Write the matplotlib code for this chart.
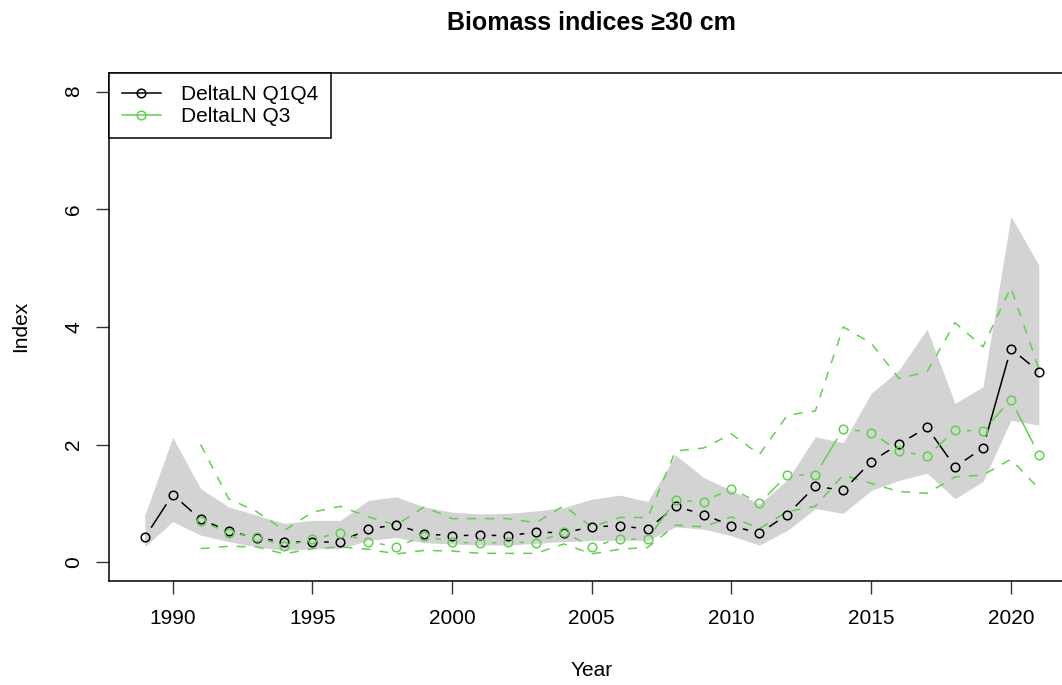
import numpy as np
import matplotlib
matplotlib.use('Agg')
import matplotlib.pyplot as plt
from matplotlib.lines import Line2D

plt.rcParams['font.family'] = ['Liberation Sans', 'DejaVu Sans']
plt.rcParams['lines.scale_dashes'] = False

# Q1Q4 index and its confidence band
years_q1q4 = list(range(1989, 2022))
q1q4 = [0.42, 1.15, 0.73, 0.53, 0.41, 0.35, 0.35, 0.35, 0.56, 0.64, 0.48,
        0.45, 0.46, 0.45, 0.51, 0.50, 0.60, 0.62, 0.56, 0.95, 0.81, 0.62,
        0.49, 0.81, 1.29, 1.22, 1.71, 2.01, 2.29, 1.62, 1.94, 3.63, 3.24]
q1q4_lo = [0.26, 0.69, 0.46, 0.35, 0.26, 0.20, 0.23, 0.23, 0.37, 0.42, 0.33,
           0.31, 0.29, 0.29, 0.32, 0.35, 0.37, 0.37, 0.37, 0.60, 0.56, 0.45,
           0.29, 0.54, 0.91, 0.83, 1.22, 1.39, 1.51, 1.08, 1.37, 2.41, 2.33]
q1q4_hi = [0.80, 2.12, 1.25, 0.94, 0.80, 0.66, 0.71, 0.71, 1.05, 1.11, 0.94,
           0.85, 0.82, 0.83, 0.87, 0.93, 1.07, 1.14, 1.03, 1.82, 1.44, 1.22,
           0.99, 1.40, 2.13, 2.03, 2.87, 3.27, 3.96, 2.70, 2.98, 5.88, 5.05]

# Q3 index and its confidence limits
years_q3 = list(range(1991, 2022))
q3 = [0.70, 0.50, 0.43, 0.27, 0.39, 0.50, 0.35, 0.26, 0.45,
      0.34, 0.32, 0.34, 0.33, 0.51, 0.26, 0.40, 0.40, 1.05, 1.03, 1.25,
      1.00, 1.48, 1.48, 2.27, 2.20, 1.89, 1.80, 2.24, 2.23, 2.76, 1.83]
q3_lo = [0.23, 0.27, 0.26, 0.14, 0.23, 0.26, 0.22, 0.14, 0.20,
         0.19, 0.15, 0.15, 0.15, 0.31, 0.14, 0.22, 0.25, 0.63, 0.60, 0.77,
         0.57, 0.86, 0.95, 1.48, 1.34, 1.20, 1.17, 1.45, 1.48, 1.75, 1.25]
q3_hi = [2.00, 1.08, 0.86, 0.54, 0.85, 0.95, 0.77, 0.63, 0.94,
         0.74, 0.74, 0.74, 0.67, 0.96, 0.60, 0.76, 0.76, 1.89, 1.94, 2.18,
         1.83, 2.50, 2.57, 4.00, 3.72, 3.12, 3.24, 4.07, 3.66, 4.67, 3.29]

labels = ['DeltaLN Q1Q4', 'DeltaLN Q3']
green = '#61D04F'

fig = plt.figure(figsize=(10.62, 6.85), dpi=100)
# plot region runs past the right edge of the image, as in the reference
ax = fig.add_axes([109 / 1062, 104 / 685, 965.6 / 1062, 508.3 / 685])
ax.set_xlim(1987.72, 2022.28)
ax.set_ylim(-0.32, 8.32)


def gapped(x, y, gap_px, **kw):
    # R style type="b": line segments stop short of each point
    pts = ax.transData.transform(np.column_stack([x, y]))
    inv = ax.transData.inverted()
    for p0, p1 in zip(pts[:-1], pts[1:]):
        d = p1 - p0
        L = np.hypot(d[0], d[1])
        if L <= 2 * gap_px:
            continue
        u = d / L
        seg = inv.transform(np.array([p0 + u * gap_px, p1 - u * gap_px]))
        ax.plot(seg[:, 0], seg[:, 1], **kw)


ax.fill_between(years_q1q4, q1q4_lo, q1q4_hi, color='#D3D3D3', lw=0, zorder=1)

gapped(years_q1q4, q1q4, 12.5, color='black', lw=1.1, zorder=3)
ax.plot(years_q1q4, q1q4, 'o', ms=6.2, mfc='none', mec='black', mew=1.1, zorder=4)

gapped(years_q3, q3, 12.5, color=green, lw=1.1, zorder=3)
ax.plot(years_q3, q3, 'o', ms=6.2, mfc='none', mec=green, mew=1.1, zorder=4)
ax.plot(years_q3, q3_lo, color=green, lw=1.1, dashes=(6.5, 6.5), zorder=2)
ax.plot(years_q3, q3_hi, color=green, lw=1.1, dashes=(6.5, 6.5), zorder=2)

ax.set_xticks(range(1990, 2021, 5))
ax.set_yticks(range(0, 9, 2))
ax.tick_params(axis='both', direction='out', length=9.5, width=1, labelsize=15,
               color='#333333')
ax.tick_params(axis='x', pad=11)
ax.tick_params(axis='y', pad=9)
for t in ax.get_yticklabels():
    t.set_rotation(90)
    t.set_va('center')
for s in ax.spines.values():
    s.set_linewidth(1.1)

ax.set_xlabel('Year', fontsize=15)
ax.set_ylabel('Index', fontsize=15)
ax.xaxis.set_label_coords(0.5, -0.157)
ax.yaxis.set_label_coords(-0.082, 0.5)
ax.set_title('Biomass indices \u226530 cm', fontsize=18, fontweight='bold', pad=31)

handles = [Line2D([], [], color='black', lw=1.1, marker='o', ms=6.2, mfc='none', mew=1.1),
           Line2D([], [], color=green, lw=1.1, marker='o', ms=6.2, mfc='none', mew=1.1)]
leg = ax.legend(handles, labels, loc='upper left', fontsize=15, borderaxespad=0,
                fancybox=False, framealpha=1, edgecolor='black', handlelength=1.9,
                handletextpad=0.95, labelspacing=0.13, borderpad=0.6)
leg.get_frame().set_linewidth(1.1)

fig.savefig('out.png', dpi=100)
